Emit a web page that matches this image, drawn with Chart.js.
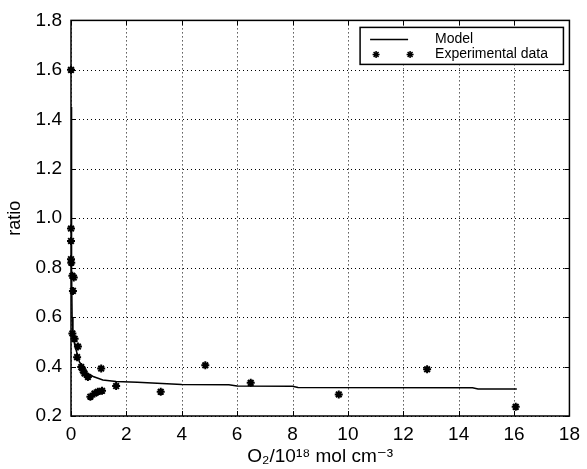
<!DOCTYPE html>
<html>
<head>
<meta charset="utf-8">
<script src="https://cdn.jsdelivr.net/npm/chart.js@4/dist/chart.umd.min.js"></script>
<style>
    body { margin: 0; background: #fff; }
    #wrap { width: 587px; height: 469px; }
</style>
</head>
<body>
<div id="wrap"><canvas id="ratioChart"></canvas></div>
<script>
// experimental points (O2 in 1e18 mol cm^-3, ratio)
const expX = [0, 0, 0, 0, 0.01, 0.05, 0.1, 0.07, 0.05, 0.13, 0.25, 0.22, 0.37, 0.43, 0.49, 0.61,
    1.09, 1.63, 0.7, 0.85, 0.97, 1.12, 3.24, 4.85, 6.49, 9.67, 12.86, 16.06];
const expY = [1.60, 0.958, 0.908, 0.834, 0.82, 0.767, 0.76, 0.706, 0.534, 0.512, 0.481, 0.438, 0.398, 0.385, 0.372, 0.358,
    0.392, 0.321, 0.278, 0.291, 0.298, 0.302, 0.298, 0.405, 0.334, 0.287, 0.389, 0.237];

// model curve
const modelX = [0.003, 0.02, 0.04, 0.07, 0.13, 0.3, 0.55, 0.8, 1.15, 1.63, 2.4, 4, 5.7, 6, 8, 8.2, 14.5, 14.7, 16.1];
const modelY = [1.45, 0.8, 0.6, 0.53, 0.49, 0.42, 0.375, 0.36, 0.346, 0.34, 0.336, 0.327, 0.326, 0.321, 0.320, 0.315, 0.314, 0.309, 0.309];

const xTicks = [0, 2, 4, 6, 8, 10, 12, 14, 16, 18];
const yTicks = [0.2, 0.4, 0.6, 0.8, 1.0, 1.2, 1.4, 1.6, 1.8];

const legendItems = ['Model', 'Experimental data'];

const FONT = '"Liberation Sans", Arial, "DejaVu Sans", sans-serif';

// dotted grid, solid frame and inward tick marks, like the original plot
const framePlugin = {
    id: 'frame',
    beforeDatasetsDraw(chart) {
        const { ctx, chartArea: a, scales } = chart;
        ctx.save();
        ctx.strokeStyle = '#000';
        ctx.lineWidth = 1;
        ctx.setLineDash([1, 3]);
        ctx.beginPath();
        scales.x.ticks.forEach((t, i) => {
            const px = Math.round(scales.x.getPixelForTick(i)) + 0.5;
            ctx.moveTo(px, a.top);
            ctx.lineTo(px, a.bottom);
        });
        scales.y.ticks.forEach((t, i) => {
            const py = Math.round(scales.y.getPixelForTick(i)) + 0.5;
            ctx.moveTo(a.left, py);
            ctx.lineTo(a.right, py);
        });
        ctx.stroke();
        ctx.restore();
    },
    afterDatasetsDraw(chart) {
        const { ctx, chartArea: a, scales } = chart;
        ctx.save();
        ctx.strokeStyle = '#000';
        ctx.lineWidth = 1;
        ctx.beginPath();
        scales.x.ticks.forEach((t, i) => {
            const px = Math.round(scales.x.getPixelForTick(i)) + 0.5;
            ctx.moveTo(px, a.bottom); ctx.lineTo(px, a.bottom - 5);
            ctx.moveTo(px, a.top); ctx.lineTo(px, a.top + 5);
        });
        scales.y.ticks.forEach((t, i) => {
            const py = Math.round(scales.y.getPixelForTick(i)) + 0.5;
            ctx.moveTo(a.left, py); ctx.lineTo(a.left + 5, py);
            ctx.moveTo(a.right, py); ctx.lineTo(a.right - 5, py);
        });
        ctx.stroke();
        ctx.lineWidth = 1.5;
        ctx.strokeRect(a.left, a.top, a.right - a.left, a.bottom - a.top);
        ctx.restore();
    }
};

// boxed legend in the top right corner of the plot
const boxLegend = {
    id: 'boxLegend',
    afterDraw(chart) {
        const { ctx, chartArea: a } = chart;
        const x0 = a.left + (a.right - a.left) * 0.58;
        const x1 = a.right - 6;
        const y0 = a.top + 7;
        const y1 = a.top + 44;
        ctx.save();
        ctx.fillStyle = '#fff';
        ctx.fillRect(x0, y0, x1 - x0, y1 - y0);
        ctx.strokeStyle = '#000';
        ctx.lineWidth = 1.5;
        ctx.strokeRect(x0, y0, x1 - x0, y1 - y0);

        const row1 = y0 + 12, row2 = y0 + 27;
        ctx.beginPath();
        ctx.moveTo(x0 + 10, row1);
        ctx.lineTo(x0 + 48, row1);
        ctx.stroke();
        [x0 + 16, x0 + 50].forEach(px => {
            Chart.helpers.drawPoint(ctx, { pointStyle: 'star', radius: 3.5, borderWidth: 2 }, px, row2);
        });

        ctx.fillStyle = '#000';
        ctx.font = '14px ' + FONT;
        ctx.textBaseline = 'middle';
        ctx.fillText(legendItems[0], x0 + 75, row1);
        ctx.fillText(legendItems[1], x0 + 75, row2);
        ctx.restore();
    }
};

new Chart(document.getElementById('ratioChart'), {
    type: 'scatter',
    data: {
        datasets: [
            {
                label: legendItems[0],
                data: modelX.map((x, i) => ({ x: x, y: modelY[i] })),
                showLine: true,
                borderColor: '#000',
                borderWidth: 1.5,
                pointRadius: 0,
                tension: 0
            },
            {
                label: legendItems[1],
                data: expX.map((x, i) => ({ x: x, y: expY[i] })),
                pointStyle: 'star',
                pointRadius: 4,
                borderWidth: 2,
                borderColor: '#000',
                backgroundColor: '#000',
                clip: false
            }
        ]
    },
    options: {
        responsive: true,
        maintainAspectRatio: false,
        animation: false,
        layout: { padding: { top: 18, right: 13, left: 0, bottom: 0 } },
        plugins: {
            legend: { display: false },
            tooltip: { enabled: false }
        },
        scales: {
            x: {
                type: 'linear',
                min: 0,
                max: 18,
                afterBuildTicks: s => { s.ticks = xTicks.map(v => ({ value: v })); },
                afterFit: s => { s.height = 53; },
                grid: { display: false, drawTicks: false },
                border: { display: false },
                ticks: {
                    color: '#000',
                    padding: 7,
                    font: { family: FONT, size: 19 }
                },
                title: {
                    display: true,
                    text: 'O₂/10¹⁸ mol cm⁻³',
                    color: '#000',
                    font: { family: FONT, size: 19 },
                    padding: { top: 0, bottom: 1 }
                }
            },
            y: {
                type: 'linear',
                min: 0.2,
                max: 1.8,
                afterBuildTicks: s => { s.ticks = yTicks.map(v => ({ value: v })); },
                afterFit: s => { s.width = 71; },
                grid: { display: false, drawTicks: false },
                border: { display: false },
                ticks: {
                    color: '#000',
                    padding: 9,
                    font: { family: FONT, size: 19 },
                    callback: v => v.toFixed(1)
                },
                title: {
                    display: true,
                    text: 'ratio',
                    color: '#000',
                    font: { family: FONT, size: 18 },
                    padding: { top: 4, bottom: 0 }
                }
            }
        }
    },
    plugins: [framePlugin, boxLegend]
});
</script>
</body>
</html>
